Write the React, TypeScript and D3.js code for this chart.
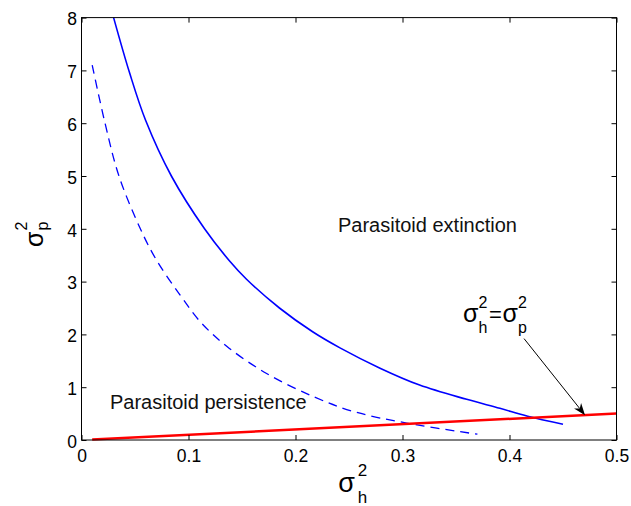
import React, { useRef, useEffect } from 'react';
import {
  select,
  scaleLinear,
  line,
  curveCatmullRom,
  axisBottom,
  axisLeft,
  axisTop,
  axisRight,
} from 'd3';

const dimensions = {
  width: 631,
  height: 506,
  left: 81.5,
  right: 616.5,
  top: 17.6,
  bottom: 440,
};

const xTicks = [0, 0.1, 0.2, 0.3, 0.4, 0.5];
const yTicks = [0, 1, 2, 3, 4, 5, 6, 7, 8];

// solid blue boundary
const solidX = [0.030, 0.045, 0.060, 0.084, 0.115, 0.138, 0.154, 0.185, 0.216, 0.242, 0.279, 0.316, 0.36, 0.391, 0.417, 0.45];
const solidY = [8.0, 6.95, 6.05, 5.0, 4.0, 3.4, 3.05, 2.5, 2.05, 1.74, 1.36, 1.04, 0.77, 0.60, 0.45, 0.30];

// dashed blue boundary
const dashedX = [0.010, 0.022, 0.035, 0.055, 0.070, 0.092, 0.111, 0.136, 0.173, 0.217, 0.254, 0.304, 0.37];
const dashedY = [7.1, 6.0, 5.0, 4.0, 3.41, 2.75, 2.24, 1.77, 1.26, 0.82, 0.54, 0.32, 0.11];

// red line sigma_h^2 = sigma_p^2
const equalX = [0.01, 0.5];
const equalY = [0.01, 0.5];

const regionLabels = ['Parasitoid extinction', 'Parasitoid persistence'];
const regionLabelX = [0.2397, 0.0266];
const regionLabelY = [3.93, 0.578];

const arrowFrom = [0.4136, 1.92];
const arrowTo = [0.4706, 0.47];
const notePos = [0.3565, 2.24];

const font = "'Liberation Sans', Arial, Helvetica, sans-serif";

const drawSigma = (
  g: any,
  x0: number,
  y0: number,
  sub: string,
  big: number,
  small: number,
  advance: number,
  rise: number,
  drop: number
) => {
  g.append('text').attr('x', x0).attr('y', y0).attr('font-size', big).text('σ');
  g.append('text').attr('x', x0 + advance).attr('y', y0 - rise).attr('font-size', small).text('2');
  g.append('text').attr('x', x0 + advance).attr('y', y0 + drop).attr('font-size', small).text(sub);
};

const App = () => {
  const svgRef = useRef<SVGSVGElement>(null);

  useEffect(() => {
    const svg = select(svgRef.current);
    svg.selectAll('*').remove();

    const x = scaleLinear().domain([0, 0.5]).range([dimensions.left, dimensions.right]);
    const y = scaleLinear().domain([0, 8]).range([dimensions.bottom, dimensions.top]);
    const tickLen = 5;

    svg
      .append('rect')
      .attr('width', dimensions.width)
      .attr('height', dimensions.height)
      .attr('fill', '#fff');

    // curves
    const toPts = (xs: number[], ys: number[]) => xs.map((v, i) => [v, ys[i]] as [number, number]);
    const curve = line<[number, number]>()
      .x((d) => x(d[0]))
      .y((d) => y(d[1]))
      .curve(curveCatmullRom.alpha(0.5));

    svg
      .append('path')
      .attr('d', curve(toPts(solidX, solidY)))
      .attr('fill', 'none')
      .attr('stroke', '#0000ff')
      .attr('stroke-width', 1.6);

    svg
      .append('path')
      .attr('d', curve(toPts(dashedX, dashedY)))
      .attr('fill', 'none')
      .attr('stroke', '#0000ff')
      .attr('stroke-width', 1.3)
      .attr('stroke-dasharray', '9,6');

    svg
      .append('path')
      .attr('d', curve(toPts(equalX, equalY)))
      .attr('fill', 'none')
      .attr('stroke', '#ff0000')
      .attr('stroke-width', 2.5);

    // frame + axes
    svg
      .append('rect')
      .attr('x', dimensions.left)
      .attr('y', dimensions.top)
      .attr('width', dimensions.right - dimensions.left)
      .attr('height', dimensions.bottom - dimensions.top)
      .attr('fill', 'none')
      .attr('stroke', '#000')
      .attr('stroke-width', 1);

    const bottomG = svg
      .append('g')
      .attr('transform', `translate(0,${dimensions.bottom})`)
      .call(
        axisBottom(x)
          .tickValues(xTicks)
          .tickSizeInner(-tickLen)
          .tickSizeOuter(0)
          .tickFormat((d) => String(d))
      );
    bottomG.select('.domain').remove();
    bottomG.attr('font-size', 17.5).attr('font-family', font);
    bottomG.selectAll('text').attr('y', 22).attr('dy', null).attr('fill', '#000');

    const leftG = svg
      .append('g')
      .attr('transform', `translate(${dimensions.left},0)`)
      .call(
        axisLeft(y)
          .tickValues(yTicks)
          .tickSizeInner(-tickLen)
          .tickSizeOuter(0)
          .tickFormat((d) => String(d))
      );
    leftG.select('.domain').remove();
    leftG.attr('font-size', 17.5).attr('font-family', font);
    leftG.selectAll('text').attr('x', -4.5).attr('dy', '0.42em').attr('fill', '#000');

    const topG = svg
      .append('g')
      .attr('transform', `translate(0,${dimensions.top})`)
      .call(axisTop(x).tickValues(xTicks).tickSizeInner(-tickLen).tickSizeOuter(0).tickFormat(() => ''));
    topG.select('.domain').remove();

    const rightG = svg
      .append('g')
      .attr('transform', `translate(${dimensions.right},0)`)
      .call(axisRight(y).tickValues(yTicks).tickSizeInner(-tickLen).tickSizeOuter(0).tickFormat(() => ''));
    rightG.select('.domain').remove();

    // region labels
    svg
      .append('g')
      .attr('font-family', font)
      .attr('font-size', 20)
      .attr('fill', '#111')
      .selectAll('text')
      .data(regionLabels)
      .join('text')
      .attr('x', (_, i) => x(regionLabelX[i]))
      .attr('y', (_, i) => y(regionLabelY[i]))
      .text((d) => d);

    // annotation sigma_h^2 = sigma_p^2
    const nx = x(notePos[0]);
    const ny = y(notePos[1]);
    const note = svg.append('g').attr('font-family', font).attr('fill', '#000');
    drawSigma(note, nx, ny, 'h', 25, 16, 15.5, 13.5, 11.5);
    note.append('text').attr('x', nx + 26).attr('y', ny).attr('font-size', 22).text('=');
    drawSigma(note, nx + 39.5, ny, 'p', 25, 16, 15.5, 13.5, 11.5);

    // arrow
    const x0 = x(arrowFrom[0]);
    const y0 = y(arrowFrom[1]);
    const x1 = x(arrowTo[0]);
    const y1 = y(arrowTo[1]);
    const len = Math.hypot(x1 - x0, y1 - y0);
    const ux = (x1 - x0) / len;
    const uy = (y1 - y0) / len;
    const headL = 12;
    const headW = 4.5;
    const bx = x1 - ux * headL;
    const by = y1 - uy * headL;
    const nxp = x1 - ux * headL * 0.7;
    const nyp = y1 - uy * headL * 0.7;
    svg
      .append('line')
      .attr('x1', x0)
      .attr('y1', y0)
      .attr('x2', nxp)
      .attr('y2', nyp)
      .attr('stroke', '#000')
      .attr('stroke-width', 1);
    svg
      .append('path')
      .attr(
        'd',
        `M${x1},${y1}L${bx - uy * headW},${by + ux * headW}L${nxp},${nyp}L${bx + uy * headW},${by - ux * headW}Z`
      )
      .attr('fill', '#000');

    // axis labels
    const xl = svg.append('g').attr('font-family', font).attr('fill', '#000');
    drawSigma(xl, (dimensions.left + dimensions.right) / 2 - 10.7, 492, 'h', 27, 17, 19.5, 16, 11);

    const yl = svg
      .append('g')
      .attr('font-family', font)
      .attr('fill', '#000')
      .attr('transform', 'translate(43,247) rotate(-90)');
    drawSigma(yl, 0, 0, 'p', 25, 16, 16.5, 16.5, 4.5);
  }, []);

  return (
    <svg
      ref={svgRef}
      width={dimensions.width}
      height={dimensions.height}
      style={{ position: 'absolute', left: 0, top: 0 }}
    ></svg>
  );
};

export default App;
